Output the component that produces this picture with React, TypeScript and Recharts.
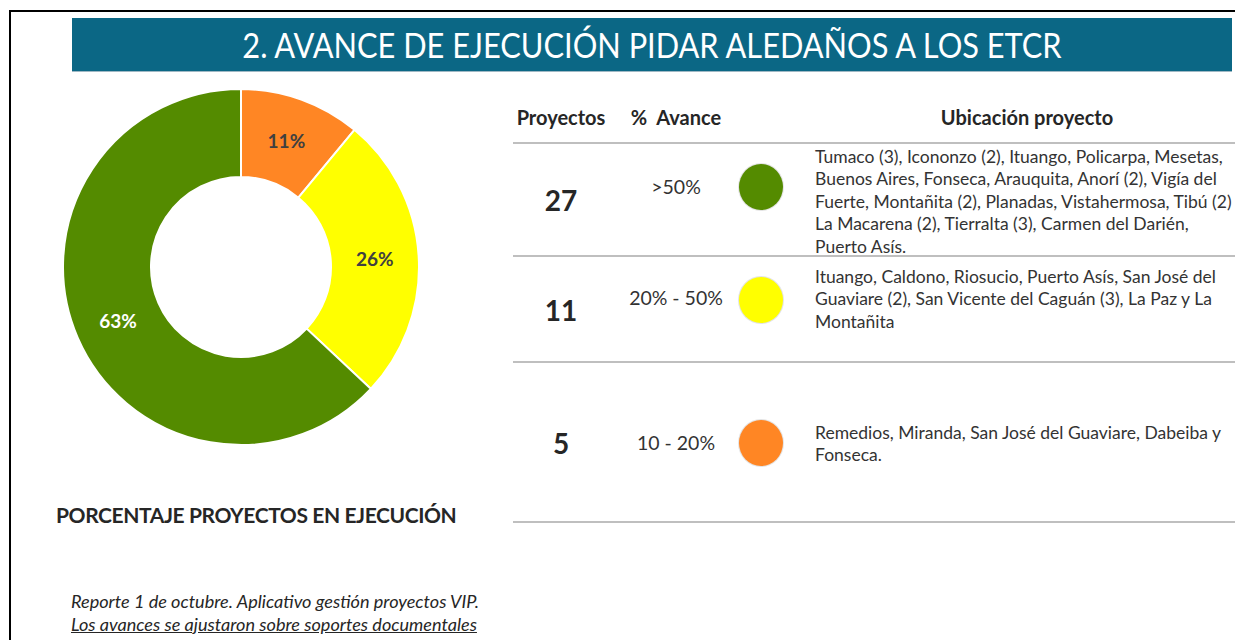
import { PieChart, Pie, Cell } from "recharts";

const segmentNames = ["10 - 20%", "20% - 50%", ">50%"];
const segmentPercents = [11, 26, 63];
const segmentColors = ["#FF8624", "#FFFF00", "#548B00"];
const labelColors = ["#404040", "#404040", "#FFFFFF"];

const rowCounts = [27, 11, 5];
const rowRanges = [">50%", "20% - 50%", "10 - 20%"];
const rowColors = ["#548B00", "#FFFF00", "#FF8624"];
const rowLocations = [
  [
    "Tumaco (3), Icononzo (2), Ituango, Policarpa, Mesetas,",
    "Buenos Aires, Fonseca, Arauquita, Anorí (2), Vigía del",
    "Fuerte, Montañita (2), Planadas, Vistahermosa, Tibú (2)",
    "La Macarena (2), Tierralta (3), Carmen del Darién,",
    "Puerto Asís.",
  ],
  [
    "Ituango, Caldono, Riosucio, Puerto Asís, San José del",
    "Guaviare (2), San Vicente del Caguán (3), La Paz y La",
    "Montañita",
  ],
  ["Remedios, Miranda, San José del Guaviare, Dabeiba y", "Fonseca."],
];

const FONT = "Lato, 'Open Sans', sans-serif";
const TEXT = "#262626";

// vertical layout of the table rows (centres)
const rowNumY = [200, 310, 443];
const rowRangeY = [187, 298, 443];
const rowDotY = [187, 300, 443];
const rowTextTop = [146, 266, 422];
const ruleY = [143, 256, 362, 522];

const pieData = segmentNames.map((name, i) => ({ name, value: segmentPercents[i] }));

const RAD = Math.PI / 180;

function renderLabel(props: any) {
  const { cx, cy, midAngle, innerRadius, outerRadius, index, value } = props;
  const r = (innerRadius + outerRadius) / 2;
  const x = cx + r * Math.cos(-midAngle * RAD);
  const y = cy + r * Math.sin(-midAngle * RAD);
  return (
    <text
      x={x}
      y={y}
      fill={labelColors[index]}
      textAnchor="middle"
      dominantBaseline="central"
      fontFamily={FONT}
      fontWeight={700}
      fontSize={19}
    >
      {value}%
    </text>
  );
}

export default function App() {
  return (
    <div
      style={{
        position: "absolute",
        left: 0,
        top: 0,
        width: 1235,
        height: 640,
        overflow: "hidden",
        background: "#fff",
        fontFamily: FONT,
        color: TEXT,
      }}
    >
      {/* slide frame */}
      <div
        style={{
          position: "absolute",
          left: 9,
          top: 10,
          width: 1300,
          height: 700,
          border: "2px solid #000",
        }}
      />

      {/* title bar */}
      <div
        style={{
          position: "absolute",
          left: 72,
          top: 18,
          width: 1160,
          height: 53,
          background: "#0B6785",
          borderBottom: "1px solid #9FB8C4",
          color: "#fff",
          fontSize: 34,
          lineHeight: "53px",
          textAlign: "center",
          whiteSpace: "nowrap",
        }}
      >
        <div style={{ transform: "scaleX(0.905)", transformOrigin: "center" }}>
          2. AVANCE DE EJECUCIÓN PIDAR ALEDAÑOS A LOS ETCR
        </div>
      </div>

      {/* donut */}
      <div style={{ position: "absolute", left: 41, top: 67 }}>
        <PieChart width={400} height={400} margin={{ top: 0, right: 0, bottom: 0, left: 0 }}>
          <Pie
            data={pieData}
            dataKey="value"
            nameKey="name"
            cx={200}
            cy={200}
            innerRadius={90}
            outerRadius={178}
            startAngle={90}
            endAngle={-270}
            stroke="#ffffff"
            strokeWidth={2}
            label={renderLabel}
            labelLine={false}
            isAnimationActive={false}
          >
            {pieData.map((d, i) => (
              <Cell key={d.name} fill={segmentColors[i]} />
            ))}
          </Pie>
        </PieChart>
      </div>

      <div
        style={{
          position: "absolute",
          left: 56,
          top: 501,
          fontSize: 21,
          fontWeight: 700,
          lineHeight: "28px",
          whiteSpace: "nowrap",
          letterSpacing: -0.4,
        }}
      >
        PORCENTAJE PROYECTOS EN EJECUCIÓN
      </div>

      <div
        style={{
          position: "absolute",
          left: 71,
          top: 590,
          fontSize: 18.1,
          fontStyle: "italic",
          lineHeight: "22.5px",
          whiteSpace: "nowrap",
        }}
      >
        <div>Reporte 1 de octubre. Aplicativo gestión proyectos VIP.</div>
        <div style={{ textDecoration: "underline" }}>Los avances se ajustaron sobre soportes documentales</div>
      </div>

      {/* table headers */}
      {[
        { t: "Proyectos", x: 561 },
        { t: "%\u00a0 Avance", x: 676 },
        { t: "Ubicación proyecto", x: 1027 },
      ].map((h) => (
        <div
          key={h.t}
          style={{
            position: "absolute",
            left: h.x - 150,
            width: 300,
            top: 104,
            fontSize: 20,
            fontWeight: 700,
            lineHeight: "26px",
            textAlign: "center",
            whiteSpace: "nowrap",
          }}
        >
          {h.t}
        </div>
      ))}

      {ruleY.map((y) => (
        <div
          key={y}
          style={{ position: "absolute", left: 513, top: y - 1, width: 730, height: 2, background: "#BFBFBF" }}
        />
      ))}

      {rowCounts.map((n, i) => (
        <div key={i}>
          <div
            style={{
              position: "absolute",
              left: 511,
              width: 100,
              top: rowNumY[i] - 18,
              fontSize: 28,
              fontWeight: 700,
              lineHeight: "36px",
              textAlign: "center",
            }}
          >
            {n}
          </div>
          <div
            style={{
              position: "absolute",
              left: 616,
              width: 120,
              top: rowRangeY[i] - 13,
              fontSize: 19.5,
              lineHeight: "26px",
              textAlign: "center",
              color: "#333",
              whiteSpace: "nowrap",
            }}
          >
            {rowRanges[i]}
          </div>
          <div
            style={{
              position: "absolute",
              left: 761 - 22,
              top: rowDotY[i] - 23,
              width: 44,
              height: 46,
              borderRadius: "50%",
              background: rowColors[i],
              boxShadow: "0 0 0 1px #E4E4E4",
            }}
          />
          <div
            style={{
              position: "absolute",
              left: 815,
              top: rowTextTop[i],
              fontSize: 17.5,
              lineHeight: "22.4px",
              color: "#333",
              whiteSpace: "nowrap",
            }}
          >
            {rowLocations[i].map((l) => (
              <div key={l}>{l}</div>
            ))}
          </div>
        </div>
      ))}
    </div>
  );
}
